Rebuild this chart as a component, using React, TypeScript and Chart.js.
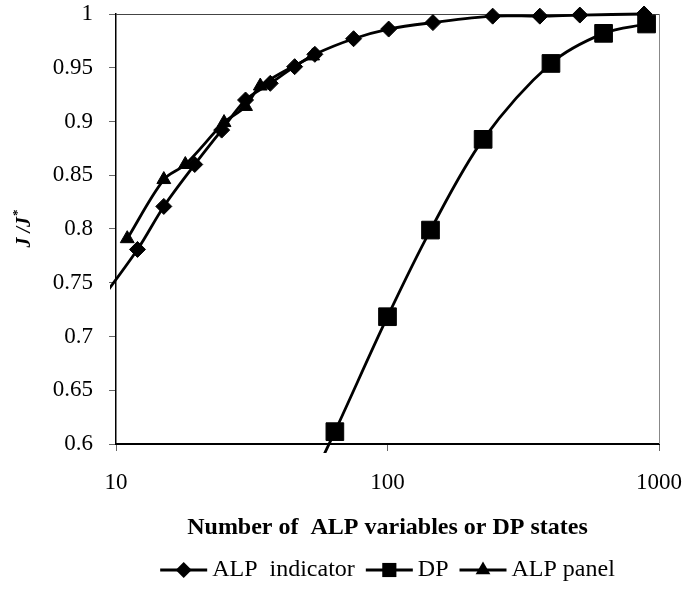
import React, { useEffect, useRef } from "react";
import { Chart, registerables } from "chart.js";

Chart.register(...registerables);

// ---- data ----
const alpIndicatorX = [8, 12, 15, 19.5, 24.5, 30, 37, 45.5, 54, 75, 101, 147, 244, 364, 511, 881];
const alpIndicatorY = [0.72, 0.781, 0.821, 0.86, 0.892, 0.92, 0.9355, 0.951, 0.9625, 0.977, 0.986, 0.992, 0.998, 0.998, 0.999, 1.0];

const dpX = [49, 64, 100, 144, 225, 400, 625, 900];
const dpY = [0.55, 0.6115, 0.7184, 0.799, 0.8834, 0.954, 0.982, 0.9907];

const alpPanelX = [11, 15, 18, 25, 30, 34, 53];
const alpPanelY = [0.791, 0.846, 0.86, 0.899, 0.914, 0.933, 0.961];

const seriesLabels = ["ALP  indicator", "DP", "ALP panel"];
const xTickValues = [10, 100, 1000];
const yMin = 0.6;
const yMax = 1;
const yStep = 0.05;
const xAxisTitle = "Number of  ALP variables or DP states";
const yAxisTitleMain = "J /J";
const yAxisTitleSup = "*";

const SERIF = '"Liberation Serif", "Times New Roman", serif';

function toPoints(xs: number[], ys: number[]) {
  return xs.map((x, i) => ({ x, y: ys[i] }));
}

function drawMarker(ctx: CanvasRenderingContext2D, style: string, x: number, y: number, r: number) {
  ctx.beginPath();
  if (style === "rectRot") {
    ctx.moveTo(x - r, y);
    ctx.lineTo(x, y - r);
    ctx.lineTo(x + r, y);
    ctx.lineTo(x, y + r);
  } else if (style === "rect") {
    const h = r * Math.SQRT1_2;
    ctx.rect(x - h, y - h, 2 * h, 2 * h);
  } else {
    const a = (2 * Math.PI) / 3;
    ctx.moveTo(x, y - r);
    ctx.lineTo(x + Math.sin(a) * r, y - Math.cos(a) * r);
    ctx.lineTo(x + Math.sin(2 * a) * r, y - Math.cos(2 * a) * r);
  }
  ctx.closePath();
  ctx.fill();
}

export default function App() {
  const ref = useRef<HTMLCanvasElement>(null);

  useEffect(() => {
    document.body.style.margin = "0";
    const canvas = ref.current;
    if (!canvas) return;

    const markerStyles = ["rectRot", "rect", "triangle"];
    const markerSizes = [8, 12.5, 8];
    const legendMarkerSizes = [8, 10, 8.5];

    const framePlugin = {
      id: "frame",
      beforeDatasetsDraw(chart: any) {
        const { ctx, chartArea: a } = chart;
        ctx.save();
        ctx.lineWidth = 1;
        ctx.strokeStyle = "#444";
        ctx.beginPath();
        ctx.moveTo(a.left, a.top + 0.5);
        ctx.lineTo(a.right + 1, a.top + 0.5);
        ctx.stroke();
        ctx.strokeStyle = "#888";
        ctx.beginPath();
        ctx.moveTo(a.right + 0.5, a.top);
        ctx.lineTo(a.right + 0.5, a.bottom);
        ctx.stroke();
        ctx.restore();
      },
    };

    const yTitlePlugin = {
      id: "yTitle",
      afterDraw(chart: any) {
        const { ctx, chartArea: a } = chart;
        ctx.save();
        ctx.translate(25, (a.top + a.bottom) / 2);
        ctx.rotate(-Math.PI / 2);
        ctx.fillStyle = "#000";
        ctx.textBaseline = "middle";
        ctx.textAlign = "left";
        const mainFont = `italic bold 20px ${SERIF}`;
        const supFont = `bold 13px ${SERIF}`;
        ctx.font = mainFont;
        const wm = ctx.measureText(yAxisTitleMain).width;
        ctx.font = supFont;
        const ws = ctx.measureText(yAxisTitleSup).width;
        const x0 = -(wm + ws) / 2;
        ctx.font = mainFont;
        ctx.fillText(yAxisTitleMain, x0, 0);
        ctx.font = supFont;
        ctx.fillText(yAxisTitleSup, x0 + wm + 1, -7);
        ctx.restore();
      },
    };

    const legendPlugin = {
      id: "lineLegend",
      afterDraw(chart: any) {
        const { ctx, chartArea: a } = chart;
        const y = 570;
        const lineLen = 47;
        const gapText = 5;
        const gapItem = 11;
        ctx.save();
        ctx.font = `24px ${SERIF}`;
        const widths = seriesLabels.map((t) => ctx.measureText(t).width);
        let total = 0;
        widths.forEach((w, i) => {
          total += lineLen + gapText + w + (i < widths.length - 1 ? gapItem : 0);
        });
        let x = (a.left + a.right) / 2 - total / 2;
        seriesLabels.forEach((label, i) => {
          ctx.strokeStyle = "#000";
          ctx.fillStyle = "#000";
          ctx.lineWidth = 2.8;
          ctx.beginPath();
          ctx.moveTo(x, y);
          ctx.lineTo(x + lineLen, y);
          ctx.stroke();
          drawMarker(ctx, markerStyles[i], x + lineLen / 2, y, legendMarkerSizes[i]);
          ctx.textBaseline = "middle";
          ctx.textAlign = "left";
          ctx.fillText(label, x + lineLen + gapText, y);
          x += lineLen + gapText + widths[i] + gapItem;
        });
        ctx.restore();
      },
    };

    const seriesData = [
      toPoints(alpIndicatorX, alpIndicatorY),
      toPoints(dpX, dpY),
      toPoints(alpPanelX, alpPanelY),
    ];

    const chart = new Chart(canvas, {
      type: "line",
      data: {
        datasets: seriesData.map((d, i) => ({
          label: seriesLabels[i],
          data: d,
          borderColor: "#000",
          backgroundColor: "#000",
          borderWidth: 2.8,
          tension: 0.33,
          pointStyle: markerStyles[i] as any,
          pointRadius: markerSizes[i],
          pointBorderWidth: 1,
          pointBorderColor: "#000",
          pointBackgroundColor: "#000",
          clip: { left: 6, top: 12, right: 12, bottom: 9 } as any,
        })),
      },
      options: {
        animation: false,
        responsive: false,
        maintainAspectRatio: false,
        layout: { autoPadding: false, padding: { top: 14, right: 31, left: 0, bottom: 0 } },
        plugins: {
          legend: { display: false },
          tooltip: { enabled: false },
        },
        scales: {
          x: {
            type: "logarithmic",
            min: 10,
            max: 1000,
            afterBuildTicks: (s: any) => {
              s.ticks = xTickValues.map((v) => ({ value: v }));
            },
            afterFit: (s: any) => {
              s.height = 149;
              s.paddingLeft = 0;
              s.paddingRight = 0;
            },
            ticks: {
              callback: (v: any) => String(v),
              font: { family: SERIF, size: 23 },
              color: "#000",
              padding: 18,
              maxRotation: 0,
              autoSkip: false,
            },
            grid: { drawOnChartArea: false, tickLength: 7, color: "#666" },
            border: { color: "#000", width: 2 },
            title: {
              display: true,
              text: xAxisTitle,
              font: { family: SERIF, size: 24, weight: "bold" },
              color: "#000",
              padding: { top: 0, bottom: 51 },
            },
          },
          y: {
            type: "linear",
            min: yMin,
            max: yMax,
            afterFit: (s: any) => {
              s.width = 116;
              s.paddingTop = 0;
              s.paddingBottom = 0;
            },
            ticks: {
              stepSize: yStep,
              callback: (v: any) => String(Number(Number(v).toFixed(2))),
              font: { family: SERIF, size: 23 },
              color: "#000",
              padding: 16,
            },
            grid: { drawOnChartArea: false, tickLength: 7, color: "#666" },
            border: { color: "#000", width: 1.5 },
          },
        },
      },
      plugins: [framePlugin, yTitlePlugin, legendPlugin],
    });

    return () => chart.destroy();
  }, []);

  return (
    <div style={{ position: "fixed", left: 0, top: 0, width: 690, height: 593, background: "#fff" }}>
      <canvas ref={ref} width={690} height={593} style={{ width: 690, height: 593, display: "block" }} />
    </div>
  );
}
